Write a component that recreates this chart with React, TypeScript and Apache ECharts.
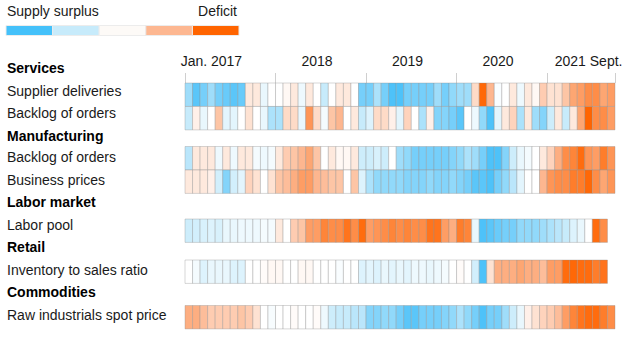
import React, { useEffect, useRef } from "react";
import * as echarts from "echarts";

// ---------- data ----------
const YEARS = [2017, 2018, 2019, 2020, 2021];
const MONTHS: string[] = [];
for (const y of YEARS) {
  for (let m = 1; m <= 12; m++) {
    if (y === 2021 && m > 9) break;
    MONTHS.push(`${y}-${String(m).padStart(2, "0")}`);
  }
}

const TICK_LABELS = ["Jan. 2017", "2018", "2019", "2020", "2021 Sept."];
const TICK_LABEL_INDEX = [3, 17, 29, 41, 53];

const LABELS = [
  { text: "Services", bold: true },
  { text: "Supplier deliveries", bold: false },
  { text: "Backlog of orders", bold: false },
  { text: "Manufacturing", bold: true },
  { text: "Backlog of orders", bold: false },
  { text: "Business prices", bold: false },
  { text: "Labor market", bold: true },
  { text: "Labor pool", bold: false },
  { text: "Retail", bold: true },
  { text: "Inventory to sales ratio", bold: false },
  { text: "Commodities", bold: true },
  { text: "Raw industrials spot price", bold: false },
];

// Values: negative = supply surplus (blue), positive = deficit (orange)
const supplierDeliveries = [
  -1.3, -1.8, -1.6, -1.3, -1.6, -1.7, -1.8, -1.7, 0.3, 0.3, -0.4, 0, 0, 0.1, 0.3, -0.3, 0.3, 0, -1.0,
  0, 0.3, 0.3, 0, -1.6, -1.6, -1.2, -1.6, -1.9, -1.9, -1.6, -1.6, -1.6, -1.6, -1.3, -1.6, -1.4, -1.3, -1.3,
  0.5, 1.95, 1.0, -0.1, 0, 0.3, -0.3, 0.3, 0.1, 0.7, 0.4, 0.4, 0.8, 1.2, 1.3, 1.5, 1.5, 1.2, 1.3,
];
const servicesBacklog = [
  -1.0, 0.2, -0.4, 0, 0.8, -0.5, -0.5, 0, 0.4, 0, -0.4, -1.2, -1.2, 0.5, 0.5, -0.4, 1.4, 0.5, -0.2,
  0.8, 1.0, 0, 0.3, -1.0, -0.6, 0.5, 0.5, 0.2, -0.5, 0.6, 0, -1.2, 0.2, -1.5, -1.5, -1.6, -1.8, 0,
  -0.3, -1.4, -1.9, -0.5, 0.3, 0.6, -1.2, 0.3, -1.3, -1.5, -0.9, 0.3, -1.0, 0.3, 1.2, 2.0, 1.5, 1.5, 1.3,
];
const manufacturingBacklog = [
  -1.1, 0.3, 0.3, 0.3, -0.3, 0.3, -0.3, 0.3, 0.3, -0.2, -0.3, -0.2, 0.3, 0.7, 0.8, 1.0, 1.2, 0.8, 0,
  0.3, 0.1, 0.1, 0.3, -0.9, -0.9, -0.7, -0.9, 0, -1.3, -1.4, -1.6, -1.6, -1.6, -1.6, -1.6, -1.5, -1.4, -1.2,
  -1.3, -1.6, -1.9, -1.9, -1.5, -0.9, -0.4, -0.2, 0, 0.3, 0.6, 1.1, 1.5, 1.6, 1.9, 1.4, 1.3, 1.7, 1.4,
];
const businessPrices = [
  0.3, 0.3, 0.3, 0.2, -0.8, -1.5, -0.8, -0.5, 0.6, 0.4, 0, 0.4, 0.8, 0.9, 1.1, 1.3, 1.3, 1.0, 0.9,
  0.8, 0.8, 0, 0.8, -0.6, -1.2, -1.4, -1.4, -1.4, -1.4, -1.5, -1.5, -1.5, -1.4, -1.5, -1.5, -1.4, -1.5, -1.6,
  -1.8, -1.8, -1.9, -1.6, -1.4, -1.1, -0.5, 0, 0, 1.0, 1.4, 1.5, 1.5, 1.7, 1.7, 1.95, 1.5, 1.2, 1.4,
];
const laborPool = [
  -0.9, -0.8, -0.7, -0.6, -0.7, -0.4, -0.4, -0.3, -0.3, -0.3, -0.2, -0.2, 0.3, 0, 0.7, 0.8, 1.3, 1.3, 1.6,
  1.5, 1.5, 1.8, 1.5, 1.9, 1.3, 1.4, 1.5, 1.6, 1.5, 1.6, 1.5, 1.5, 1.8, 1.8, 1.3, 1.1, 1.7, 1.6,
  -0.4, -1.9, -1.8, -1.7, -1.6, -1.6, -1.4, -1.4, -1.4, -1.3, -1.2, -1.1, -1.0, -0.6, -0.4, 0, 1.9, 1.5,
];
const inventoryToSales = [
  0, -0.2, -0.6, -0.4, -0.4, -0.4, -0.6, -0.6, 0, 0, 0.05, 0.1, 0.1, 0, 0, 0.1, 0.1, 0, 0,
  0, -0.1, 0, 0, -0.6, -0.5, -0.6, -0.4, -0.5, -0.4, -0.5, -0.3, -0.3, -0.4, -0.3, -0.2, 0, 0.05, 0,
  -0.8, -1.9, 0.4, 1.1, 1.1, 1.1, 1.2, 1.1, 1.1, 0.9, 1.3, 1.3, 1.9, 1.95, 1.9, 1.9, 1.7, 1.8,
];
const rawIndustrials = [
  1.1, 1.1, 0.9, 0.7, 0.7, 0.7, 0.7, 0.8, 0.7, 0.4, 0, -0.15, 0, 0, 0.05, 0, 0, 0.05, -0.3,
  -0.9, -1.0, -1.0, -1.1, -1.1, -1.5, -1.5, -1.4, -1.4, -1.6, -1.8, -1.8, -1.6, -1.6, -1.6, -1.5, -1.4, -1.2, -1.4,
  -1.6, -1.9, -1.6, -1.6, -1.3, -0.9, -0.4, 0.2, 0.4, 0.6, 0.7, 0.9, 1.3, 1.6, 1.8, 1.9, 1.9, 1.7, 1.5,
];

const ROWS = [
  supplierDeliveries,
  servicesBacklog,
  manufacturingBacklog,
  businessPrices,
  laborPool,
  inventoryToSales,
  rawIndustrials,
];

const SCALE_COLORS = ["#40bdf9", "#c7ebfb", "#ffffff", "#fdb68f", "#ff6400"];
const LEGEND_COLORS = ["#44c1fa", "#c7ebfb", "#fdfaf7", "#fdb791", "#ff6400"];

// ---------- layout ----------
const W = 638;
const H = 338;
const GRID_TOP = 83;
const GRID_LEFT = 185;
const GRID_RIGHT = 23;
const GRID_BOTTOM = 9;
const Y_MAX = 246;
const ROW_TOP = [0, 23.5, 63.5, 87, 136, 177, 222.5];
const ROW_H = 23.4;
const LABEL_Y = [69, 91.7, 114.3, 136.7, 158.3, 181, 203.3, 225.7, 248.3, 270.7, 293.3, 315.7];
const FONT = "'Liberation Sans', Arial, Helvetica, sans-serif";

export default function App() {
  const ref = useRef<HTMLDivElement>(null);

  useEffect(() => {
    if (!ref.current) return;
    const chart = echarts.init(ref.current, undefined, { renderer: "svg" });

    const data: number[][] = [];
    ROWS.forEach((row, r) => {
      row.forEach((v, i) => data.push([i, r, v]));
    });

    const graphics: any[] = [];
    LABELS.forEach((l, i) => {
      graphics.push({
        type: "text",
        left: 7,
        top: LABEL_Y[i] - 8,
        style: {
          text: l.text,
          font: `${l.bold ? "bold " : ""}14px ${FONT}`,
          fill: l.bold ? "#000" : "#1a1a1a",
        },
      });
    });
    const legX = 6;
    const legW = 233 / LEGEND_COLORS.length;
    LEGEND_COLORS.forEach((c, i) => {
      graphics.push({
        type: "rect",
        shape: { x: legX + i * legW, y: 25.5, width: legW, height: 10 },
        style: { fill: c, stroke: "#ececec", lineWidth: 1 },
      });
    });
    graphics.push({
      type: "text",
      left: 7,
      top: 4,
      style: { text: "Supply surplus", font: `14px ${FONT}`, fill: "#1a1a1a" },
    });
    graphics.push({
      type: "text",
      right: W - 237,
      top: 4,
      style: { text: "Deficit", font: `14px ${FONT}`, fill: "#1a1a1a" },
    });

    chart.setOption({
      animation: false,
      backgroundColor: "#ffffff",
      grid: { left: GRID_LEFT, right: GRID_RIGHT, top: GRID_TOP, bottom: GRID_BOTTOM },
      xAxis: {
        type: "category",
        data: MONTHS,
        position: "top",
        boundaryGap: true,
        axisLine: { show: false },
        axisTick: {
          show: true,
          length: 10,
          interval: (idx: number) => idx % 12 === 0,
          lineStyle: { color: "#cfcfcf", width: 1 },
        },
        axisLabel: {
          show: true,
          interval: (idx: number) => TICK_LABEL_INDEX.indexOf(idx) >= 0,
          formatter: (_v: string, idx: number) => {
            const k = TICK_LABEL_INDEX.indexOf(idx);
            return k >= 0 ? TICK_LABELS[k] : "";
          },
          margin: 15,
          color: "#1a1a1a",
          fontSize: 14,
          fontFamily: FONT,
        },
        splitLine: { show: false },
      },
      yAxis: {
        type: "value",
        min: 0,
        max: Y_MAX,
        inverse: true,
        show: false,
        splitLine: { show: false },
      },
      visualMap: {
        show: false,
        type: "continuous",
        min: -2,
        max: 2,
        dimension: 2,
        seriesIndex: 0,
        inRange: { color: SCALE_COLORS },
      },
      graphic: graphics,
      series: [
        {
          type: "custom",
          data,
          encode: { x: 0 },
          renderItem: (_params: any, api: any) => {
            const xi = api.value(0);
            const ri = api.value(1);
            const p = api.coord([xi, ROW_TOP[ri]]);
            const s = api.size([1, ROW_H]);
            return {
              type: "rect",
              shape: { x: p[0] - s[0] / 2, y: p[1], width: s[0], height: s[1] },
              style: {
                fill: api.visual("color"),
                stroke: "rgba(140,140,140,0.35)",
                lineWidth: 1,
              },
            };
          },
        },
      ],
    });

    return () => chart.dispose();
  }, []);

  return (
    <div
      ref={ref}
      style={{ position: "absolute", left: 0, top: 0, width: W, height: H }}
    />
  );
}
